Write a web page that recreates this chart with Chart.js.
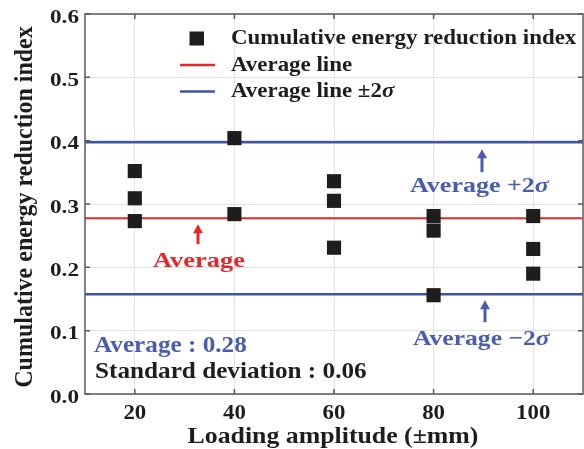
<!DOCTYPE html>
<html>
<head>
<meta charset="utf-8">
<script src="https://cdn.jsdelivr.net/npm/chart.js@4.4.1/dist/chart.umd.min.js"></script>
<style>
  html, body { margin: 0; padding: 0; background: #fff; }
  #wrap { width: 584px; height: 449px; }
</style>
</head>
<body>
<div id="wrap"><canvas id="myChart" width="584" height="449"></canvas></div>
<script>
// loading amplitude (±mm) for each specimen
const amplitudes = [20, 20, 20, 40, 40, 60, 60, 60, 80, 80, 80, 100, 100, 100];
// cumulative energy reduction index per specimen
const reductionIdx = [0.352, 0.309, 0.273, 0.404, 0.284, 0.336, 0.305, 0.231, 0.281, 0.258, 0.156, 0.281, 0.229, 0.19];
const xTicks = [20, 40, 60, 80, 100];
const yTicks = [0, 0.1, 0.2, 0.3, 0.4, 0.5, 0.6];
const avgValue = 0.2775;
const stdDev = 0.06;
const xRange = [10, 110];

const BLACK = 'rgb(30, 28, 28)';
const RED = 'rgb(232, 38, 40)';
const BLUE = 'rgb(62, 82, 168)';
const TXT_BLUE = 'rgb(72, 92, 176)';
const FONT = '"Liberation Serif", "Times New Roman", serif';

const points = amplitudes.map((a, i) => ({ x: a, y: reductionIdx[i] }));
const hline = (v) => xRange.map(x => ({ x: x, y: v }));

const data = {
  datasets: [
    {
      label: 'Cumulative energy reduction index',
      type: 'scatter',
      data: points,
      pointStyle: 'rect',
      pointRadius: 10,
      backgroundColor: BLACK,
      borderColor: BLACK,
      borderWidth: 0,
      order: 0
    },
    {
      label: 'Average line',
      type: 'line',
      data: hline(avgValue),
      borderColor: RED,
      borderWidth: 2,
      pointRadius: 0,
      order: 1
    },
    {
      label: 'Average line \u00b12\u03c3',
      type: 'line',
      data: hline(avgValue + 2 * stdDev),
      borderColor: BLUE,
      borderWidth: 2.5,
      pointRadius: 0,
      order: 1
    },
    {
      label: '',
      type: 'line',
      data: hline(avgValue - 2 * stdDev),
      borderColor: BLUE,
      borderWidth: 2.5,
      pointRadius: 0,
      order: 1
    }
  ]
};

// segs: [[text, italic], ...] drawn bold serif, stretched sideways by sx
function drawText(ctx, segs, x, y, size, sx, color, align) {
  if (typeof segs === 'string') segs = [[segs, false]];
  ctx.save();
  ctx.fillStyle = color;
  ctx.textBaseline = 'alphabetic';
  ctx.textAlign = 'left';
  let total = 0;
  segs.forEach(s => {
    ctx.font = (s[1] ? 'italic ' : '') + 'bold ' + size + 'px ' + FONT;
    total += ctx.measureText(s[0]).width;
  });
  ctx.translate(x, y);
  ctx.scale(sx, 1);
  let cx = 0;
  if (align === 'center') cx = -total / 2;
  if (align === 'right') cx = -total;
  segs.forEach(s => {
    ctx.font = (s[1] ? 'italic ' : '') + 'bold ' + size + 'px ' + FONT;
    ctx.fillText(s[0], cx, 0);
    cx += ctx.measureText(s[0]).width;
  });
  ctx.restore();
}

function arrowUp(ctx, x, yTop, yBot, color) {
  ctx.save();
  ctx.strokeStyle = color;
  ctx.fillStyle = color;
  ctx.lineWidth = 3;
  ctx.beginPath();
  ctx.moveTo(x, yBot);
  ctx.lineTo(x, yTop + 6);
  ctx.stroke();
  ctx.beginPath();
  ctx.moveTo(x, yTop);
  ctx.lineTo(x - 5, yTop + 9);
  ctx.lineTo(x + 5, yTop + 9);
  ctx.closePath();
  ctx.fill();
  ctx.restore();
}

// frame, inward ticks, tick labels, titles, legend and notes
const decor = {
  id: 'decor',
  afterDraw(chart) {
    const ctx = chart.ctx;
    const a = chart.chartArea;
    const xs = chart.scales.x, ys = chart.scales.y;
    ctx.save();
    ctx.strokeStyle = 'rgb(90, 90, 90)';
    ctx.lineWidth = 1.5;
    ctx.strokeRect(a.left, a.top, a.right - a.left, a.bottom - a.top);
    ctx.beginPath();
    xTicks.forEach(v => {
      const px = xs.getPixelForValue(v);
      ctx.moveTo(px, a.bottom); ctx.lineTo(px, a.bottom - 5);
      ctx.moveTo(px, a.top); ctx.lineTo(px, a.top + 5);
    });
    yTicks.forEach(v => {
      const py = ys.getPixelForValue(v);
      ctx.moveTo(a.left, py); ctx.lineTo(a.left + 5, py);
      ctx.moveTo(a.right, py); ctx.lineTo(a.right - 5, py);
    });
    ctx.stroke();
    ctx.restore();

    // tick labels
    yTicks.forEach(v => {
      drawText(ctx, v.toFixed(1), a.left - 6, ys.getPixelForValue(v) + 8.5, 19, 1.22, BLACK, 'right');
    });
    xTicks.forEach(v => {
      drawText(ctx, String(v), xs.getPixelForValue(v), 419, 20, 1.14, BLACK, 'center');
    });

    // axis titles
    drawText(ctx, 'Loading amplitude (\u00b1mm)', (a.left + a.right) / 2 - 1, 443, 24, 1.075, BLACK, 'center');
    ctx.save();
    ctx.translate(32, (a.top + a.bottom) / 2 + 3);
    ctx.rotate(-Math.PI / 2);
    ctx.scale(1.0, 1.07);
    drawText(ctx, 'Cumulative energy reduction index', 0, 0, 24, 1.0, BLACK, 'center');
    ctx.restore();

    // legend
    ctx.save();
    ctx.fillStyle = BLACK;
    ctx.fillRect(189.5, 31.5, 14.5, 14);
    ctx.lineWidth = 2.5;
    ctx.strokeStyle = RED;
    ctx.beginPath(); ctx.moveTo(180, 65); ctx.lineTo(215, 65); ctx.stroke();
    ctx.strokeStyle = BLUE;
    ctx.beginPath(); ctx.moveTo(180, 91.5); ctx.lineTo(215, 91.5); ctx.stroke();
    ctx.restore();
    drawText(ctx, 'Cumulative energy reduction index', 231, 44, 20, 1.146, BLACK);
    drawText(ctx, 'Average line', 231, 70.5, 20, 1.146, BLACK);
    drawText(ctx, [['Average line \u00b12', false], ['\u03c3', true]], 231, 97, 20, 1.146, BLACK);

    // annotations
    const yUp = ys.getPixelForValue(avgValue + 2 * stdDev);
    const yAvg = ys.getPixelForValue(avgValue);
    const yLo = ys.getPixelForValue(avgValue - 2 * stdDev);
    arrowUp(ctx, 482, yUp + 7, yUp + 30, TXT_BLUE);
    arrowUp(ctx, 198, yAvg + 6, yAvg + 26, RED);
    arrowUp(ctx, 485, yLo + 6, yLo + 28, TXT_BLUE);

    drawText(ctx, [['Average +2', false], ['\u03c3', true]], 410, 192, 21.5, 1.21, TXT_BLUE);
    drawText(ctx, [['Average \u22122', false], ['\u03c3', true]], 413, 345, 21.5, 1.19, TXT_BLUE);
    drawText(ctx, 'Average', 153, 267, 22, 1.2, RED);
    drawText(ctx, 'Average : 0.28', 94, 352, 22.5, 1.12, TXT_BLUE);
    drawText(ctx, 'Standard deviation : 0.06', 95, 378, 22.5, 1.12, BLACK);
  }
};

const config = {
  type: 'scatter',
  data,
  options: {
    responsive: false,
    animation: false,
    layout: { autoPadding: false, padding: { left: 0, right: 1, top: 14, bottom: 0 } },
    plugins: {
      legend: { display: false },
      tooltip: { enabled: false }
    },
    scales: {
      x: {
        type: 'linear',
        min: xRange[0],
        max: xRange[1],
        afterBuildTicks: (s) => { s.ticks = xTicks.map(v => ({ value: v })); },
        afterFit: (s) => { s.height = 55; s.paddingLeft = 0; s.paddingRight = 0; },
        grid: { color: 'rgb(226, 226, 226)', lineWidth: 1, drawTicks: false },
        border: { display: false },
        ticks: { display: false }
      },
      y: {
        min: 0,
        max: 0.6,
        afterBuildTicks: (s) => { s.ticks = yTicks.map(v => ({ value: v })); },
        afterFit: (s) => { s.width = 85; s.paddingTop = 0; s.paddingBottom = 0; },
        grid: { color: 'rgb(226, 226, 226)', lineWidth: 1, drawTicks: false },
        border: { display: false },
        ticks: { display: false }
      }
    }
  },
  plugins: [decor]
};

const ctx = document.getElementById('myChart').getContext('2d');
const myChart = new Chart(ctx, config);
</script>
</body>
</html>
